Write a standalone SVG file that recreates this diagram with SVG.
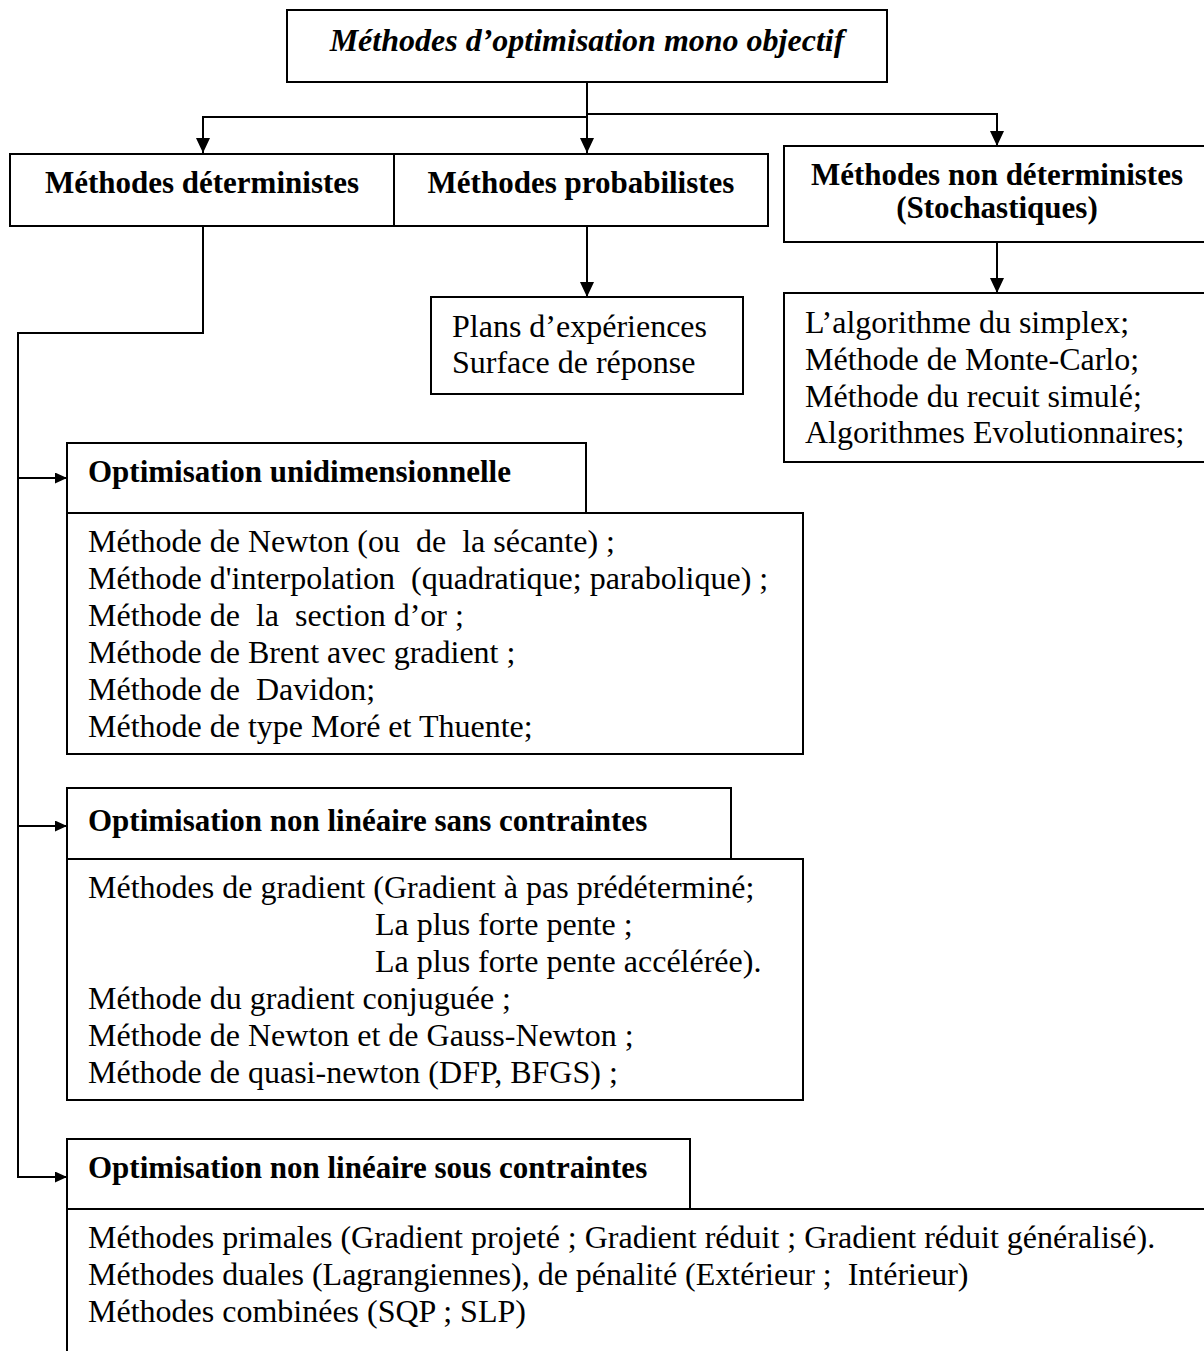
<svg xmlns="http://www.w3.org/2000/svg" width="1204" height="1351" viewBox="0 0 1204 1351">
<style>
text{font-family:"Liberation Serif","Times New Roman",serif;fill:#000;white-space:pre}
.t{font-size:32px;font-weight:bold;font-style:italic}
.h{font-size:31px;font-weight:bold}
.b{font-size:32px}
.box{fill:#fff;stroke:#000;stroke-width:2}
.ln{fill:none;stroke:#000;stroke-width:2}
</style>
<defs>
<marker id="ah" markerWidth="15" markerHeight="14" refX="15" refY="7" orient="auto" markerUnits="userSpaceOnUse">
<path d="M0,0 L15,7 L0,14 Z" fill="#000"/>
</marker>
<marker id="ahs" markerWidth="12" markerHeight="11" refX="12" refY="5.5" orient="auto" markerUnits="userSpaceOnUse">
<path d="M0,0 L12,5.5 L0,11 Z" fill="#000"/>
</marker>
</defs>
<g id="connectors">
<path class="ln" d="M587,82 V153" marker-end="url(#ah)"/>
<path class="ln" d="M587,117 H203 V153" marker-end="url(#ah)"/>
<path class="ln" d="M587,114 H997 V146" marker-end="url(#ah)"/>
<path class="ln" d="M587,226 V297" marker-end="url(#ah)"/>
<path class="ln" d="M997,242 V293" marker-end="url(#ah)"/>
<path class="ln" d="M203,226 V333 H18 V1177 H67" marker-end="url(#ahs)"/>
<path class="ln" d="M18,478 H67" marker-end="url(#ahs)"/>
<path class="ln" d="M18,826 H67" marker-end="url(#ahs)"/>
</g>
<g id="top">
<rect class="box" x="287" y="10" width="600" height="72"/>
<text class="t" x="587" y="51" text-anchor="middle">Méthodes d’optimisation mono objectif</text>
</g>
<g id="deterministes">
<rect class="box" x="10" y="154" width="384" height="72"/>
<text class="h" x="202" y="193" text-anchor="middle">Méthodes déterministes</text>
</g>
<g id="probabilistes">
<rect class="box" x="394" y="154" width="374" height="72"/>
<text class="h" x="581" y="193" text-anchor="middle">Méthodes probabilistes</text>
</g>
<g id="stochastiques">
<rect class="box" x="784" y="146" width="426" height="96"/>
<text class="h" x="997" y="185" text-anchor="middle">Méthodes non déterministes</text>
<text class="h" x="997" y="218" text-anchor="middle">(Stochastiques)</text>
</g>
<g id="plans">
<rect class="box" x="431" y="297" width="312" height="97"/>
<text class="b" x="452" y="337">Plans d’expériences</text>
<text class="b" x="452" y="373">Surface de réponse</text>
</g>
<g id="stoch-list">
<rect class="box" x="784" y="293" width="426" height="169"/>
<text class="b" x="805" y="333">L’algorithme du simplex;</text>
<text class="b" x="805" y="370">Méthode de Monte-Carlo;</text>
<text class="b" x="805" y="407">Méthode du recuit simulé;</text>
<text class="b" x="805" y="443">Algorithmes Evolutionnaires;</text>
</g>
<g id="uni">
<rect class="box" x="67" y="443" width="519" height="70"/>
<text class="h" x="88" y="482">Optimisation unidimensionnelle</text>
<rect class="box" x="67" y="513" width="736" height="241"/>
<text class="b" x="88" y="552">Méthode de Newton (ou  de  la sécante) ;</text>
<text class="b" x="88" y="589">Méthode d'interpolation  (quadratique; parabolique) ;</text>
<text class="b" x="88" y="626">Méthode de  la  section d’or ;</text>
<text class="b" x="88" y="663">Méthode de Brent avec gradient ;</text>
<text class="b" x="88" y="700">Méthode de  Davidon;</text>
<text class="b" x="88" y="737">Méthode de type Moré et Thuente;</text>
</g>
<g id="sans">
<rect class="box" x="67" y="788" width="664" height="71"/>
<text class="h" x="88" y="831">Optimisation non linéaire sans contraintes</text>
<rect class="box" x="67" y="859" width="736" height="241"/>
<text class="b" x="88" y="898">Méthodes de gradient (Gradient à pas prédéterminé;</text>
<text class="b" x="375" y="935">La plus forte pente ;</text>
<text class="b" x="375" y="972">La plus forte pente accélérée).</text>
<text class="b" x="88" y="1009">Méthode du gradient conjuguée ;</text>
<text class="b" x="88" y="1046">Méthode de Newton et de Gauss-Newton ;</text>
<text class="b" x="88" y="1083">Méthode de quasi-newton (DFP, BFGS) ;</text>
</g>
<g id="sous">
<rect class="box" x="67" y="1139" width="623" height="70"/>
<text class="h" x="88" y="1178">Optimisation non linéaire sous contraintes</text>
<rect class="box" x="67" y="1209" width="1150" height="160"/>
<text class="b" x="88" y="1248">Méthodes primales (Gradient projeté ; Gradient réduit ; Gradient réduit généralisé).</text>
<text class="b" x="88" y="1285">Méthodes duales (Lagrangiennes), de pénalité (Extérieur ;  Intérieur)</text>
<text class="b" x="88" y="1322">Méthodes combinées (SQP ; SLP)</text>
</g>
</svg>
